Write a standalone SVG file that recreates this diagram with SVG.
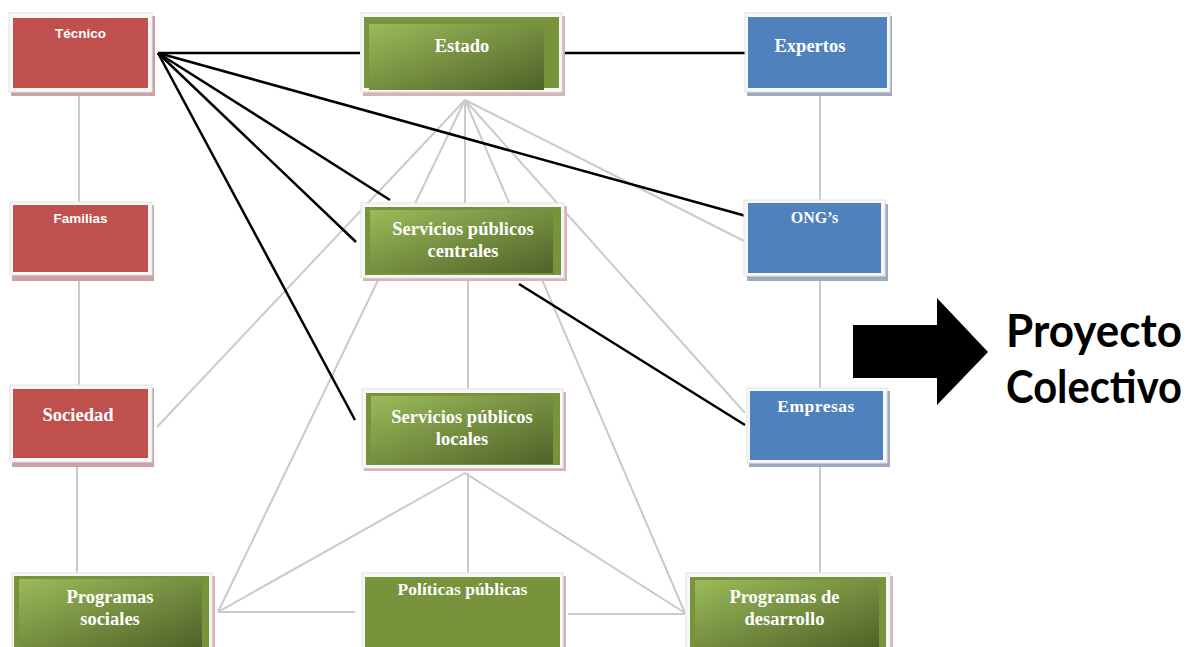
<svg xmlns="http://www.w3.org/2000/svg" width="1194" height="647" viewBox="0 0 1194 647">
<defs>
<linearGradient id="gg" x1="0" y1="0" x2="1" y2="1">
<stop offset="0" stop-color="#9BBB59"/>
<stop offset="1" stop-color="#4F6228"/>
</linearGradient>
<style>
.frame{fill:#F8F8F8;stroke:#E2E2E2;stroke-width:1}
.shR{fill:#C9A3A3}
.shB{fill:#9DAAC0}
.shG{fill:#D6B4B4}
.red{fill:#C0504D}
.blue{fill:#4F81BD}
.grn{fill:#77933C}
.grad{fill:url(#gg)}
.gl{stroke:#CACACA;stroke-width:2;fill:none}
.bl{stroke:#000;stroke-width:2.5;fill:none}
.ts{font-family:"Liberation Sans",Arial,sans-serif;font-weight:bold;font-size:13.5px;fill:#fff;text-anchor:middle}
.tr{font-family:"Liberation Serif","Times New Roman",serif;font-weight:bold;font-size:18.5px;fill:#fff;text-anchor:middle}
.big{font-family:Lato,"Liberation Sans",sans-serif;font-weight:bold;font-size:45px;fill:#000}
</style>
</defs>
<rect width="1194" height="647" fill="#fff"/>
<g id="connectors">
<line class="gl" x1="79" y1="96" x2="79" y2="202"/>
<line class="gl" x1="79" y1="281" x2="79" y2="385"/>
<line class="gl" x1="77" y1="466" x2="77" y2="573"/>
<line class="gl" x1="820" y1="96" x2="820" y2="200"/>
<line class="gl" x1="820" y1="281" x2="820" y2="388"/>
<line class="gl" x1="820" y1="467" x2="820" y2="573"/>
<line class="gl" x1="465" y1="100" x2="157" y2="427"/>
<line class="gl" x1="465" y1="100" x2="218" y2="612"/>
<line class="gl" x1="465" y1="100" x2="465" y2="203"/>
<line class="gl" x1="465" y1="100" x2="685" y2="613"/>
<line class="gl" x1="465" y1="100" x2="745" y2="413"/>
<line class="gl" x1="465" y1="100" x2="746" y2="242"/>
<line class="gl" x1="468" y1="281" x2="468" y2="389"/>
<line class="gl" x1="465" y1="473" x2="218" y2="612"/>
<line class="gl" x1="465" y1="473" x2="685" y2="613"/>
<line class="gl" x1="468" y1="473" x2="468" y2="573"/>
<line class="gl" x1="218" y1="612" x2="355" y2="612"/>
<line class="gl" x1="568" y1="614" x2="685" y2="614"/>
<line class="bl" x1="158" y1="53" x2="360" y2="53"/>
<line class="bl" x1="565" y1="53" x2="745" y2="53"/>
<line class="bl" x1="158" y1="53" x2="746" y2="216"/>
<line class="bl" x1="158" y1="53" x2="390" y2="200"/>
<line class="bl" x1="158" y1="53" x2="356" y2="242"/>
<line class="bl" x1="158" y1="53" x2="355" y2="420"/>
<line class="bl" x1="519" y1="284" x2="745" y2="425"/>
</g>
<g id="tecnico">
<rect class="shR" x="11" y="16" width="144" height="80"/>
<rect class="frame" x="9" y="13" width="143" height="79"/>
<rect class="red" x="13" y="18" width="135" height="70"/>
<text class="ts" x="80.5" y="38">Técnico</text>
</g>
<g id="familias">
<rect class="shR" x="12" y="205" width="142" height="76"/>
<rect class="frame" x="10" y="202" width="142" height="73"/>
<rect class="red" x="13" y="205" width="135" height="67"/>
<text class="ts" x="80.5" y="223">Familias</text>
</g>
<g id="sociedad">
<rect class="shR" x="12" y="388" width="142" height="79"/>
<rect class="frame" x="10" y="385" width="142" height="77"/>
<rect class="red" x="13" y="389" width="135" height="69"/>
<text class="tr" x="78" y="421">Sociedad</text>
</g>
<g id="estado">
<rect class="shG" x="363" y="16" width="202" height="80"/>
<rect class="frame" x="361" y="13" width="201" height="79"/>
<rect class="grn" x="364" y="17" width="195" height="71"/>
<rect class="grad" x="369" y="24" width="175" height="66"/>
<text class="tr" x="462" y="52">Estado</text>
</g>
<g id="expertos">
<rect class="shB" x="747" y="16" width="145" height="80"/>
<rect class="frame" x="745" y="13" width="145" height="79"/>
<rect class="blue" x="748" y="17" width="139" height="71"/>
<text class="tr" x="810" y="52">Expertos</text>
</g>
<g id="servicios-centrales">
<rect class="shG" x="363" y="206" width="204" height="75"/>
<rect class="frame" x="361" y="203" width="203" height="75"/>
<rect class="grn" x="365" y="207" width="196" height="68"/>
<rect class="grad" x="370" y="210" width="183" height="63"/>
<text class="tr" x="463" y="235">Servicios públicos</text>
<text class="tr" x="463" y="257">centrales</text>
</g>
<g id="ongs">
<rect class="shB" x="747" y="204" width="141" height="77"/>
<rect class="frame" x="744" y="200" width="141" height="76"/>
<rect class="blue" x="748" y="203" width="133" height="70"/>
<text class="tr" x="814.5" y="223" style="font-size:16px">ONG’s</text>
</g>
<g id="servicios-locales">
<rect class="shG" x="364" y="392" width="202" height="79"/>
<rect class="frame" x="362" y="389" width="201" height="79"/>
<rect class="grn" x="366" y="393" width="194" height="72"/>
<rect class="grad" x="371" y="396" width="182" height="68"/>
<text class="tr" x="462" y="423">Servicios públicos</text>
<text class="tr" x="462" y="445">locales</text>
</g>
<g id="empresas">
<rect class="shB" x="749" y="391" width="141" height="76"/>
<rect class="frame" x="747" y="388" width="140" height="75"/>
<rect class="blue" x="750" y="391" width="133" height="69"/>
<text class="tr" x="816" y="412" style="font-size:17.5px;letter-spacing:0.5px">Empresas</text>
</g>
<g id="programas-sociales">
<rect class="shG" x="14" y="576" width="201" height="75"/>
<rect class="frame" x="12" y="573" width="200" height="78"/>
<rect class="grn" x="14" y="576" width="195" height="75"/>
<rect class="grad" x="19" y="579" width="183" height="68"/>
<text class="tr" x="110" y="603">Programas</text>
<text class="tr" x="110" y="625">sociales</text>
</g>
<g id="politicas-publicas">
<rect class="shG" x="364" y="576" width="202" height="75"/>
<rect class="frame" x="362" y="573" width="201" height="78"/>
<rect class="grn" x="365" y="577" width="195" height="74"/>
<text class="tr" x="462.5" y="595" style="font-size:17.5px">Políticas públicas</text>
</g>
<g id="programas-desarrollo">
<rect class="shG" x="688" y="576" width="205" height="75"/>
<rect class="frame" x="686" y="573" width="204" height="78"/>
<rect class="grn" x="690" y="577" width="196" height="74"/>
<rect class="grad" x="695" y="580" width="184" height="67"/>
<text class="tr" x="784.5" y="603">Programas de</text>
<text class="tr" x="784.5" y="625">desarrollo</text>
</g>
<g id="proyecto-colectivo">
<polygon points="853,325 937,325 937,298 988,352 937,405 937,378 853,378" fill="#000"/>
<text class="big" x="1006" y="347" textLength="176" lengthAdjust="spacingAndGlyphs">Proyecto</text>
<text class="big" x="1006" y="403" textLength="176" lengthAdjust="spacingAndGlyphs">Colectivo</text>
</g>
</svg>
